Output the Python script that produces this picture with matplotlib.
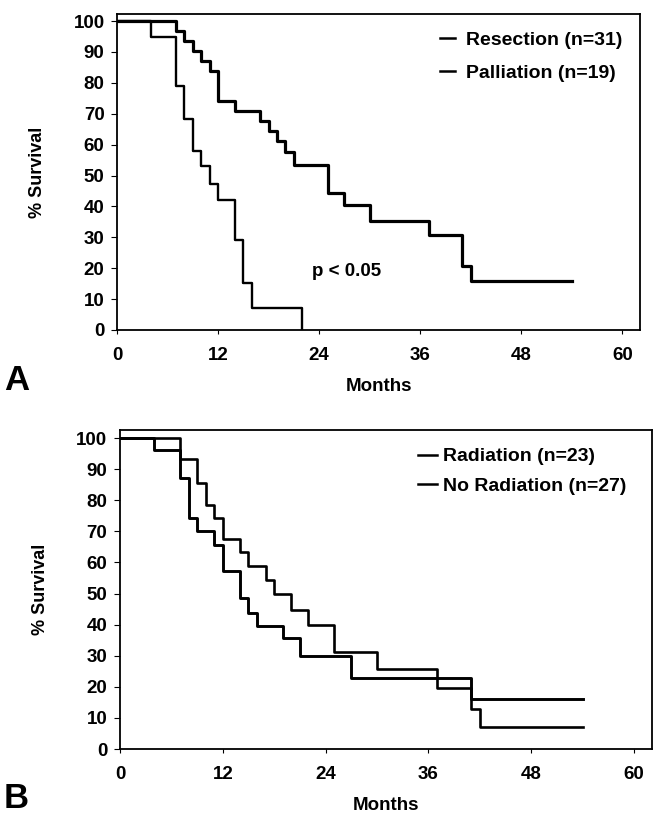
import matplotlib
matplotlib.use("Agg")
import matplotlib.pyplot as plt

plt.rcParams['font.family'] = ['Liberation Sans', 'DejaVu Sans']
plt.rcParams['font.weight'] = 'bold'

# Panel A - resection vs palliation (months, % survival)
resect_t = [0, 7, 8, 9, 10, 11, 12, 14, 17, 18, 19, 20, 21, 25, 27, 30, 37, 41, 42, 54]
resect_s = [100, 96.8, 93.5, 90.3, 87.1, 83.9, 74.2, 71.0, 67.7, 64.5, 61.3, 57.5, 53.5,
            44.3, 40.4, 35.4, 30.9, 20.6, 15.8, 15.8]
pall_t = [0, 4, 7, 8, 9, 10, 11, 12, 14, 15, 16, 22]
pall_s = [100, 94.9, 79.0, 68.3, 58.0, 53.2, 47.4, 42.1, 29.0, 15.2, 7.2, 0]

# Panel B - radiation vs no radiation
rad_t = [0, 4, 7, 8, 9, 11, 12, 14, 15, 16, 19, 21, 27, 41, 54]
rad_s = [100, 96.2, 87.0, 74.3, 70.0, 65.5, 57.4, 48.5, 43.8, 39.6, 35.7, 29.8, 22.8, 16.2, 16.2]
norad_t = [0, 7, 9, 10, 11, 12, 14, 15, 17, 18, 20, 22, 25, 30, 37, 41, 42, 54]
norad_s = [100, 93.4, 85.6, 78.4, 74.3, 67.6, 63.4, 58.7, 54.5, 50.0, 44.7, 39.9, 31.2,
           25.6, 19.7, 12.8, 7.2, 7.2]

x_ticks = [0, 12, 24, 36, 48, 60]
y_ticks = [0, 10, 20, 30, 40, 50, 60, 70, 80, 90, 100]

fig = plt.figure(figsize=(6.6, 8.16), dpi=100)
axA = fig.add_axes([0.1773, 0.5956, 0.7924, 0.3873])
axB = fig.add_axes([0.1818, 0.0821, 0.8060, 0.3910])


def style(ax, ytop):
    ax.set_xlim(0, 62.1)
    ax.set_ylim(0, ytop)
    ax.set_xticks(x_ticks)
    ax.set_yticks(y_ticks)
    for s in ax.spines.values():
        s.set_linewidth(1.3)
    ax.tick_params(axis='x', length=3, width=0.8, pad=9, labelsize=13.5)
    ax.tick_params(axis='y', length=4, width=0.8, pad=5, labelsize=13.5)
    for lab in ax.get_xticklabels() + ax.get_yticklabels():
        lab.set_fontweight('bold')
    ax.set_xlabel("Months", fontsize=13.5, fontweight='bold', labelpad=10)
    ax.set_ylabel("% Survival", fontsize=13, fontweight='bold', labelpad=20)


# Panel A
axA.step(resect_t, resect_s, where='post', color='black', lw=2.3, label="Resection (n=31)")
axA.step(pall_t, pall_s, where='post', color='black', lw=1.7, label="Palliation (n=19)")
style(axA, 102.3)
axA.text(23.2, 18.8, "p < 0.05", fontsize=13.5, fontweight='bold', ha='left', va='center')
legA = axA.legend(loc='upper left', bbox_to_anchor=(0.618, 0.945), frameon=False,
                  handlelength=0.77, handletextpad=0.56, labelspacing=0.8,
                  borderpad=0, borderaxespad=0, prop={'size': 14, 'weight': 'bold'})
for h in legA.get_lines():
    h.set_linewidth(1.8)

# Panel B
axB.step(rad_t, rad_s, where='post', color='black', lw=2.1, label="Radiation (n=23)")
axB.step(norad_t, norad_s, where='post', color='black', lw=1.9, label="No Radiation (n=27)")
style(axB, 102.6)
legB = axB.legend(loc='upper left', bbox_to_anchor=(0.56, 0.944), frameon=False,
                  handlelength=0.98, handletextpad=0.31, labelspacing=0.59,
                  borderpad=0, borderaxespad=0, prop={'size': 14, 'weight': 'bold'})
for h in legB.get_lines():
    h.set_linewidth(1.8)

fig.text(0.006, 1 - 380 / 816, "A", fontsize=25, fontweight='bold', ha='left', va='center')
fig.text(0.006, 1 - 798 / 816, "B", fontsize=25, fontweight='bold', ha='left', va='center')

fig.savefig("out.png", dpi=100)
